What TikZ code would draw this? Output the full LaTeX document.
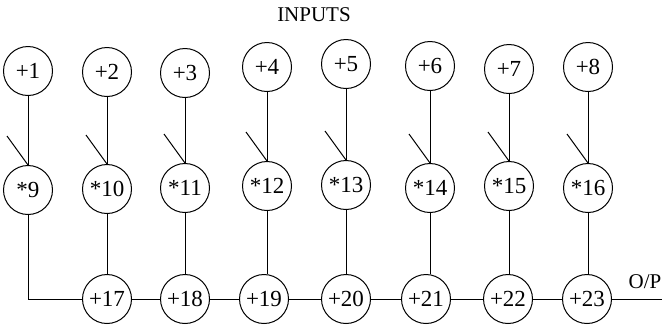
\documentclass[tikz,border=0pt]{standalone}
\usepackage{fontspec}
\setmainfont{Liberation Serif}
\usetikzlibrary{calc}
\begin{document}
\begin{tikzpicture}[x=0.5pt,y=-0.5pt,
  unit/.style={draw,circle,minimum size=24.5pt,inner sep=0pt,line width=0.5pt,
    font=\fontsize{11.5}{13}\selectfont},
  wire/.style={line width=0.5pt},
  lbl/.style={font=\fontsize{10.5}{12}\selectfont,inner sep=0pt}]
\useasboundingbox (0,0) rectangle (662,329);

% heading
\node[lbl] (inputs) at (314,15) {INPUTS};

% input units
\node[unit] (t1) at (28,71)  {+1};
\node[unit] (t2) at (107,72) {+2};
\node[unit] (t3) at (185,73) {+3};
\node[unit] (t4) at (267,67) {+4};
\node[unit] (t5) at (346,64) {+5};
\node[unit] (t6) at (430,66) {+6};
\node[unit] (t7) at (509,69) {+7};
\node[unit] (t8) at (588,67) {+8};

% weighting units
\node[unit] (m9)  at (28,190)  {*9};
\node[unit] (m10) at (107,189) {*10};
\node[unit] (m11) at (185,188) {*11};
\node[unit] (m12) at (267,186) {*12};
\node[unit] (m13) at (346,185) {*13};
\node[unit] (m14) at (430,188) {*14};
\node[unit] (m15) at (509,186) {*15};
\node[unit] (m16) at (588,188) {*16};

% summing chain
\node[unit] (b17) at (107,299) {+17};
\node[unit] (b18) at (185,299) {+18};
\node[unit] (b19) at (264,299) {+19};
\node[unit] (b20) at (346,299) {+20};
\node[unit] (b21) at (426,299) {+21};
\node[unit] (b22) at (508,299) {+22};
\node[unit] (b23) at (587,299) {+23};

% output
\coordinate (op) at (662,299);
\node[lbl] (oplabel) at (645,282) {O/P};

% input to weighting links, each with a weight tick
\foreach \i/\j in {1/9,2/10,3/11,4/12,5/13,6/14,7/15,8/16}{
  \draw[wire] (t\i) -- (m\j.north);
  \coordinate (w\j) at ($(m\j.north)+(-21,-29)$);
  \draw[wire] (w\j) -- (m\j.north);
}

% weighting to summing links
\draw[wire] (m9.south) |- (b17);
\foreach \j/\k in {10/17,11/18,12/19,13/20,14/21,15/22,16/23}{
  \draw[wire] (m\j) -- (m\j |- b\k.north);
}

% summing chain
\draw[wire] (b17) -- (b18);
\draw[wire] (b18) -- (b19);
\draw[wire] (b19) -- (b20);
\draw[wire] (b20) -- (b21);
\draw[wire] (b21) -- (b22);
\draw[wire] (b22) -- (b23);
\draw[wire] (b23) -- (op);
\end{tikzpicture}
\end{document}
